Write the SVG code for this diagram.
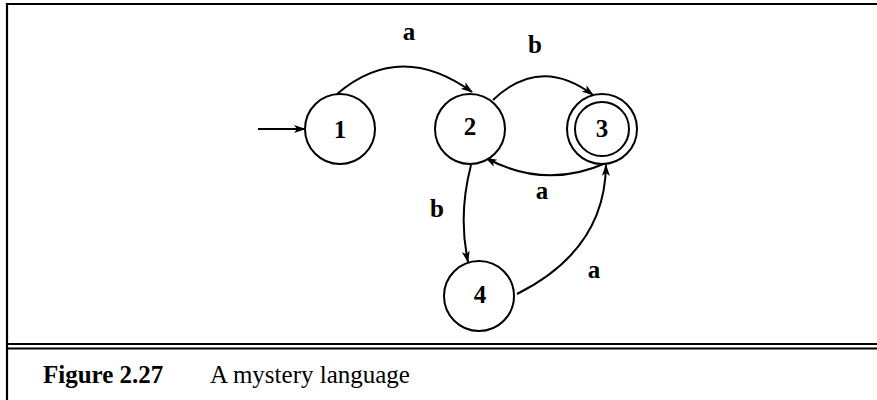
<svg xmlns="http://www.w3.org/2000/svg" width="877" height="400" viewBox="0 0 877 400">
<style>
.st{fill:#fff;stroke:#000;stroke-width:2}
.lb{font-family:"Liberation Serif",serif;font-weight:bold;font-size:25px;text-anchor:middle;fill:#000}
.ed{fill:none;stroke:#000;stroke-width:2}
.cap{font-family:"Liberation Serif",serif;font-size:25px;fill:#000}
</style>
<defs>
<marker id="ah" markerUnits="userSpaceOnUse" markerWidth="12" markerHeight="8" refX="11" refY="4" orient="auto">
<path d="M0,0 L12,4 L0,8 L3,4 Z" fill="#000"/>
</marker>
</defs>
<rect width="877" height="400" fill="#fff"/>
<g id="frame" stroke="#000" stroke-width="2.2">
<line x1="7" y1="4" x2="877" y2="4"/>
<line x1="7" y1="3" x2="7" y2="400"/>
<line x1="7" y1="344" x2="877" y2="344"/>
<line x1="7" y1="348.5" x2="877" y2="348.5"/>
</g>
<g id="connectors">
<path class="ed" d="M258,129 L305,129" marker-end="url(#ah)"/>
<path class="ed" d="M337,94 Q400,40 472,92" marker-end="url(#ah)"/>
<path class="ed" d="M493,100 Q540,55 593,95" marker-end="url(#ah)"/>
<path class="ed" d="M606,163 Q545,190 486,158" marker-end="url(#ah)"/>
<path class="ed" d="M471,165 Q458,215 468,262" marker-end="url(#ah)"/>
<path class="ed" d="M517,294 Q605,250 606,165" marker-end="url(#ah)"/>
<text class="lb" x="409" y="40">a</text>
<text class="lb" x="535" y="53">b</text>
<text class="lb" x="542" y="199">a</text>
<text class="lb" x="437" y="217">b</text>
<text class="lb" x="594" y="278">a</text>
</g>
<g id="node1"><circle class="st" cx="340" cy="129" r="35"/><text class="lb" x="340" y="138">1</text></g>
<g id="node2"><circle class="st" cx="470" cy="129" r="35"/><text class="lb" x="470" y="135">2</text></g>
<g id="node3"><circle class="st" cx="602" cy="129" r="35"/><circle class="st" cx="602" cy="129" r="27" fill="none"/><text class="lb" x="602" y="137">3</text></g>
<g id="node4"><circle class="st" cx="479" cy="296" r="35"/><text class="lb" x="480" y="303">4</text></g>
<g id="caption">
<text class="cap" x="43" y="383"><tspan font-weight="bold">Figure 2.27</tspan><tspan x="210">A mystery language</tspan></text>
</g>
</svg>
